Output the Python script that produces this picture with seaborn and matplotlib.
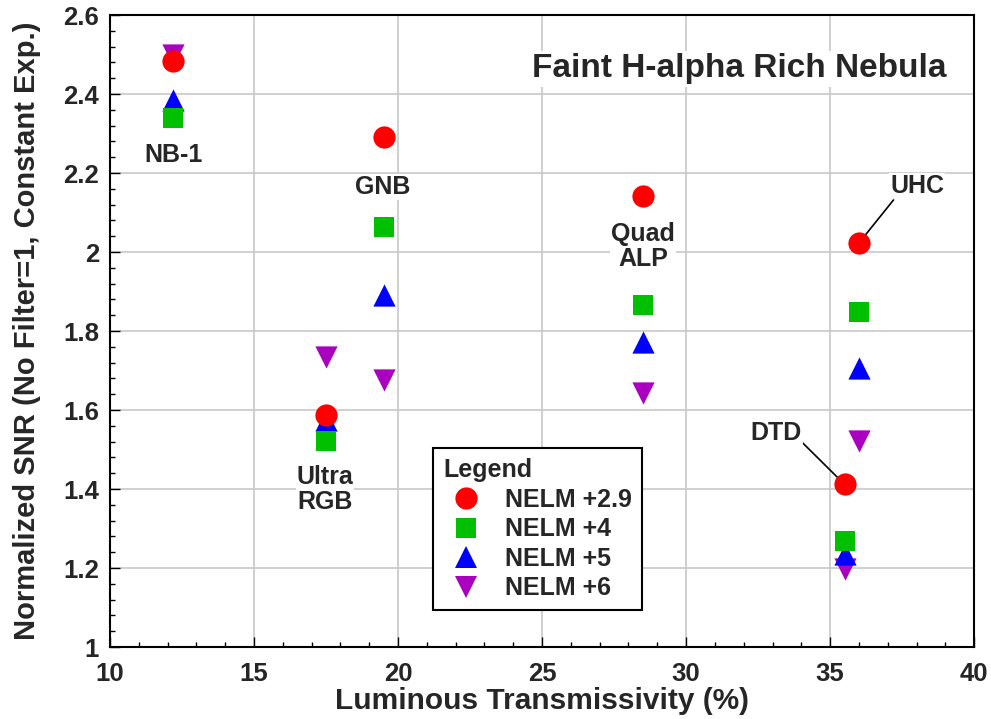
import numpy as np
import pandas as pd
import seaborn as sns
import matplotlib
matplotlib.use("Agg")
import matplotlib.pyplot as plt
from matplotlib.lines import Line2D
from matplotlib.ticker import MultipleLocator

# ---- data ----
filters = ["NB-1", "Ultra RGB", "GNB", "Quad ALP", "DTD", "UHC"]
transmissivity = [12.2, 17.5, 19.5, 28.5, 35.5, 36.0]
snr_nelm_29 = [2.485, 1.588, 2.292, 2.143, 1.412, 2.023]
snr_nelm_4 = [2.340, 1.522, 2.063, 1.866, 1.268, 1.848]
snr_nelm_5 = [2.385, 1.575, 1.892, 1.773, 1.235, 1.706]
snr_nelm_6 = [2.500, 1.734, 1.676, 1.643, 1.198, 1.522]
series_names = ["NELM +2.9", "NELM +4", "NELM +5", "NELM +6"]

label_text = ["NB-1", "Ultra\nRGB", "GNB", "Quad\nALP", "DTD", "UHC"]
label_x = [12.19, 17.47, 19.48, 28.5, 33.13, 38.02]
label_y = [2.246, 1.40, 2.165, 2.013, 1.542, 2.167]

colors = {"NELM +2.9": "#ff0000", "NELM +4": "#00c000",
          "NELM +5": "#0000ff", "NELM +6": "#aa00c0"}
markers = {"NELM +2.9": "o", "NELM +4": "s", "NELM +5": "^", "NELM +6": "v"}
sizes = {"NELM +2.9": 16, "NELM +4": 15, "NELM +5": 16, "NELM +6": 16}

values = {"NELM +2.9": snr_nelm_29, "NELM +4": snr_nelm_4,
          "NELM +5": snr_nelm_5, "NELM +6": snr_nelm_6}

# draw NELM +6 first so circles end up on top
rows = []
for name in reversed(series_names):
    for f, x, y in zip(filters, transmissivity, values[name]):
        rows.append({"filter": f, "x": x, "y": y, "series": name})
df = pd.DataFrame(rows)

sns.set_theme(style="white")
plt.rcParams["font.family"] = ["Liberation Sans", "DejaVu Sans"]
plt.rcParams["font.weight"] = "bold"

fig = plt.figure(figsize=(9.91, 7.19), dpi=100)
ax = fig.add_axes([0.111, 0.100, 0.872, 0.879])

for name in reversed(series_names):
    sub = df[df["series"] == name]
    sns.scatterplot(data=sub, x="x", y="y", color=colors[name],
                    marker=markers[name], s=sizes[name] ** 2,
                    linewidth=0, ax=ax, legend=False, zorder=3)

ax.set_xlim(10, 40)
ax.set_ylim(1, 2.6)
ax.xaxis.set_major_locator(MultipleLocator(5))
ax.xaxis.set_minor_locator(MultipleLocator(1))
ax.yaxis.set_minor_locator(MultipleLocator(0.04))
ax.set_yticks(np.arange(1.0, 2.61, 0.2))
ax.set_yticklabels(["1", "1.2", "1.4", "1.6", "1.8", "2", "2.2", "2.4", "2.6"])
ax.tick_params(axis="both", which="major", direction="in", length=7, width=1,
               color="black", labelsize=18.5, bottom=True, left=True)
ax.tick_params(axis="x", which="major", pad=10.5)
ax.tick_params(axis="y", which="major", pad=8)
ax.tick_params(axis="both", which="minor", direction="in", length=3.5, width=1,
               color="black", bottom=True, left=True)
for lab in ax.get_xticklabels() + ax.get_yticklabels():
    lab.set_fontweight("bold")
ax.grid(True, which="major", color="#c8c8c8", linewidth=1.2, zorder=0)
ax.set_axisbelow(True)
for sp in ax.spines.values():
    sp.set_color("black")
    sp.set_linewidth(1.5)

ax.set_xlabel("Luminous Transmissivity (%)", fontsize=21.5, fontweight="bold", labelpad=1)
ax.set_ylabel("Normalized SNR (No Filter=1, Constant Exp.)", fontsize=21,
              fontweight="bold", labelpad=16)

# filter labels
box = dict(facecolor="white", edgecolor="none", pad=0.5)
for t, x, y in zip(label_text, label_x, label_y):
    ax.text(x, y, t, ha="center", va="center", fontsize=18, fontweight="bold",
            linespacing=1.05, bbox=box, zorder=4)

# leader lines for DTD and UHC
i_uhc = filters.index("UHC")
i_dtd = filters.index("DTD")
ax.annotate("", xy=(transmissivity[i_uhc], snr_nelm_29[i_uhc]),
            xytext=(37.2, 2.132),
            arrowprops=dict(arrowstyle="-", color="black", lw=1.2,
                            shrinkA=0, shrinkB=6), zorder=2)
ax.annotate("", xy=(transmissivity[i_dtd], snr_nelm_29[i_dtd]),
            xytext=(33.95, 1.524),
            arrowprops=dict(arrowstyle="-", color="black", lw=1.2,
                            shrinkA=0, shrinkB=1), zorder=2)

ax.text(0.968, 0.915, "Faint H-alpha Rich Nebula", transform=ax.transAxes,
        ha="right", va="center", fontsize=24, fontweight="bold",
        bbox=dict(facecolor="white", edgecolor="none", pad=2), zorder=4)

handles = [Line2D([], [], linestyle="none", marker=markers[n], color=colors[n],
                  markersize=sizes[n], markeredgewidth=0) for n in series_names]
leg = ax.legend(handles, series_names, title="Legend", loc="lower left",
                bbox_to_anchor=(0.374, 0.058), frameon=True, fancybox=False,
                edgecolor="black", framealpha=1, fontsize=18,
                title_fontproperties={"weight": "bold", "size": 18},
                alignment="left", handletextpad=0.68, labelspacing=0.22,
                borderpad=0.4, handlelength=1.8, borderaxespad=0)
leg.get_frame().set_linewidth(1.5)
for txt in leg.get_texts():
    txt.set_fontweight("bold")

fig.savefig("out.png", dpi=100)
